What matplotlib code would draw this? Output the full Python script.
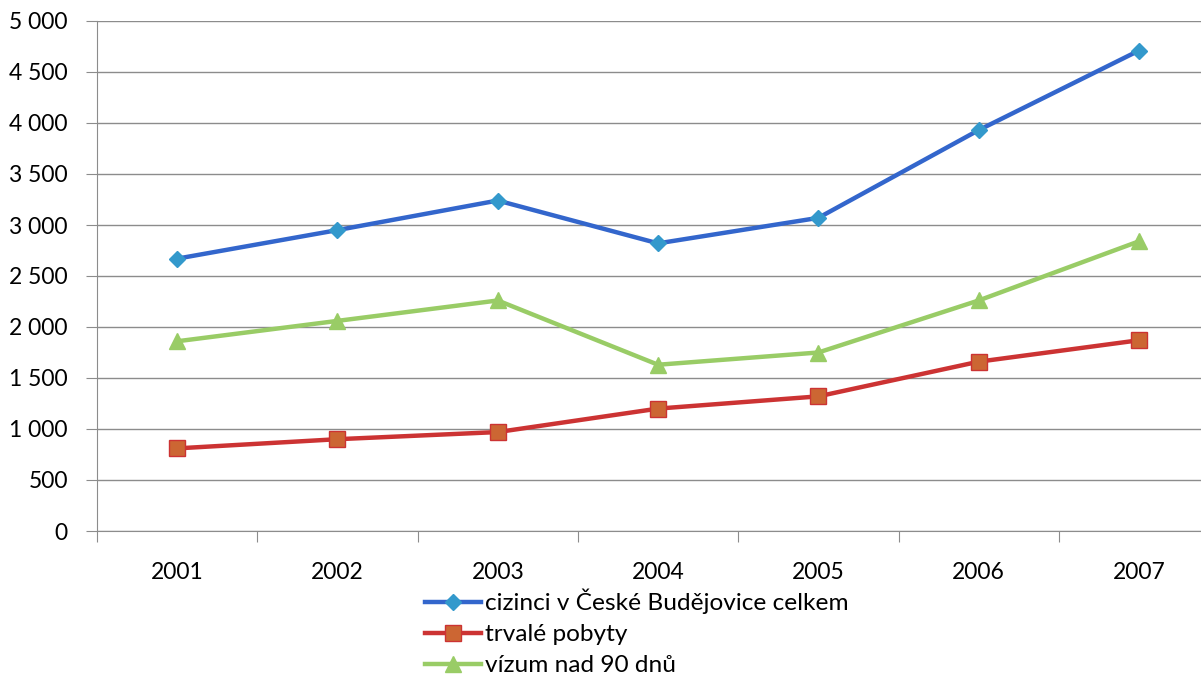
import matplotlib.pyplot as plt
import matplotlib.ticker as ticker

# Data
roky = ['2001', '2002', '2003', '2004', '2005', '2006', '2007']
celkem = [2670, 2950, 3240, 2820, 3070, 3930, 4710]
trvale = [810, 900, 970, 1200, 1320, 1660, 1870]
vizum = [1860, 2060, 2260, 1630, 1750, 2260, 2840]

plt.rcParams['font.family'] = ['Lato', 'DejaVu Sans']

fig = plt.figure(figsize=(12.01, 6.82), dpi=100)
ax = fig.add_axes([97 / 1201, 1 - 531 / 682, 1 - 97 / 1201, (531 - 21) / 682])

x = list(range(1, len(roky) + 1))

ax.plot(x, celkem, color='#3366CC', lw=3.2, marker='D', ms=8,
        mfc='#3399CC', mec='#3399CC', label='cizinci v České Budějovice celkem', zorder=3)
ax.plot(x, trvale, color='#CC3333', lw=3.2, marker='s', ms=12,
        mfc='#CC6633', mec='#CC3333', mew=1, label='trvalé pobyty', zorder=3)
ax.plot(x, vizum, color='#99CC66', lw=3.2, marker='^', ms=12,
        mfc='#99CC66', mec='#99CC66', label='vízum nad 90 dnů', zorder=3)

ax.yaxis.set_major_locator(ticker.MultipleLocator(500))
ax.yaxis.set_major_formatter(ticker.FuncFormatter(lambda v, p: f'{int(v):,}'.replace(',', ' ')))
ax.grid(axis='y', color='#8C8C8C', lw=1)
ax.set_axisbelow(True)

ax.set_xticks([i + 0.5 for i in range(0, 8)])
ax.set_xticklabels([])
ax.set_xticks(x, minor=True)
ax.set_xticklabels(roky, minor=True)
ax.tick_params(axis='x', which='minor', length=0, pad=22, labelsize=16.5)
ax.tick_params(axis='x', which='major', length=8, color='#8C8C8C')
ax.tick_params(axis='y', length=8, color='#8C8C8C', pad=13, labelsize=16.5)

# limits set after the ticks so they are not widened
step = 160.3
ax.set_xlim(0.5, 0.5 + (1201 - 97) / step)
ax.set_ylim(0, 5000)

for s in ['top', 'right']:
    ax.spines[s].set_visible(False)
ax.spines['left'].set_color('#8C8C8C')
ax.spines['bottom'].set_color('#8C8C8C')

fig.legend(loc='upper left', bbox_to_anchor=(425 / 1201, 1 - 589 / 682), frameon=False,
           fontsize=17.6, handlelength=2.3, handletextpad=0.15, labelspacing=0.4,
           borderaxespad=0, borderpad=0)

fig.savefig('out.png', dpi=100)
